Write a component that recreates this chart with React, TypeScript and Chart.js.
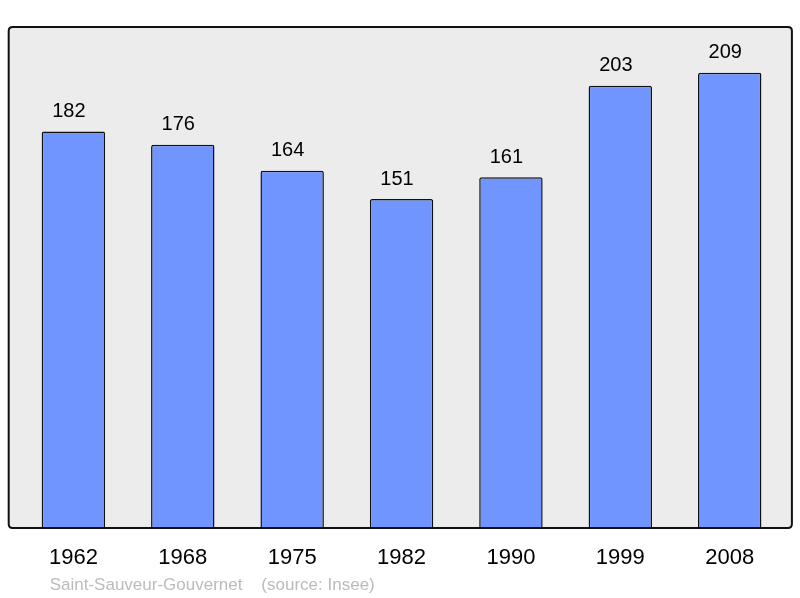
import React, { useEffect, useRef } from "react";
import { Chart, registerables } from "chart.js";

Chart.register(...registerables);

const years = ["1962", "1968", "1975", "1982", "1990", "1999", "2008"];
const population = [182, 176, 164, 151, 161, 203, 209];
const yMax = 230;
const footerText = "Saint-Sauveur-Gouvernet    (source: Insee)";

const FONT = "'Liberation Sans', Arial, sans-serif";

function roundRect(ctx: CanvasRenderingContext2D, x: number, y: number, w: number, h: number, r: number) {
  ctx.beginPath();
  ctx.moveTo(x + r, y);
  ctx.lineTo(x + w - r, y);
  ctx.quadraticCurveTo(x + w, y, x + w, y + r);
  ctx.lineTo(x + w, y + h - r);
  ctx.quadraticCurveTo(x + w, y + h, x + w - r, y + h);
  ctx.lineTo(x + r, y + h);
  ctx.quadraticCurveTo(x, y + h, x, y + h - r);
  ctx.lineTo(x, y + r);
  ctx.quadraticCurveTo(x, y, x + r, y);
  ctx.closePath();
}

const framePlugin = {
  id: "frame",
  beforeDatasetsDraw(chart: any) {
    const { ctx, chartArea } = chart;
    ctx.save();
    const left = chartArea.left - 10;
    const right = chartArea.right + 7.5;
    roundRect(ctx, left, chartArea.top, right - left, chartArea.bottom - chartArea.top, 4);
    ctx.fillStyle = "#ececec";
    ctx.fill();
    ctx.restore();
  },
  afterDatasetsDraw(chart: any) {
    const { ctx, chartArea } = chart;
    ctx.save();
    const left = chartArea.left - 10;
    const right = chartArea.right + 7.5;
    roundRect(ctx, left, chartArea.top, right - left, chartArea.bottom - chartArea.top, 4);
    ctx.lineWidth = 2;
    ctx.strokeStyle = "#111";
    ctx.stroke();

    // value labels
    const meta = chart.getDatasetMeta(0);
    ctx.fillStyle = "#000";
    ctx.font = `20px ${FONT}`;
    ctx.textAlign = "center";
    ctx.textBaseline = "alphabetic";
    meta.data.forEach((bar: any, i: number) => {
      ctx.fillText(String(population[i]), bar.x - 4.5, bar.y - 14.5);
    });

    // footer
    ctx.fillStyle = "#bbbbbb";
    ctx.font = `17px ${FONT}`;
    ctx.textAlign = "left";
    ctx.fillText(footerText, chartArea.left + 31, 590);
    ctx.restore();
  },
};

export default function App() {
  const ref = useRef<HTMLCanvasElement>(null);
  useEffect(() => {
    document.body.style.margin = "0";
    const chart = new Chart(ref.current as HTMLCanvasElement, {
      type: "bar",
      data: {
        labels: years,
        datasets: [
          {
            data: population,
            backgroundColor: "#7095ff",
            borderColor: "#111",
            borderWidth: 1.5,
            borderSkipped: "bottom",
            borderRadius: 2,
            barPercentage: 0.58,
            categoryPercentage: 1,
          },
        ],
      },
      options: {
        responsive: false,
        animation: false,
        layout: { padding: { left: 18.7, right: 15.6, top: 27, bottom: 0 } },
        plugins: { legend: { display: false }, tooltip: { enabled: false } },
        scales: {
          x: {
            grid: { display: false, drawTicks: false },
            border: { display: false },
            ticks: { color: "#000", font: { family: FONT, size: 22 }, padding: 17 },
            afterFit: (s: any) => {
              s.height = 70;
            },
          },
          y: {
            display: false,
            min: 0,
            max: yMax,
          },
        },
      },
      plugins: [framePlugin],
    });
    return () => chart.destroy();
  }, []);
  return <canvas ref={ref} width={800} height={598} />;
}
